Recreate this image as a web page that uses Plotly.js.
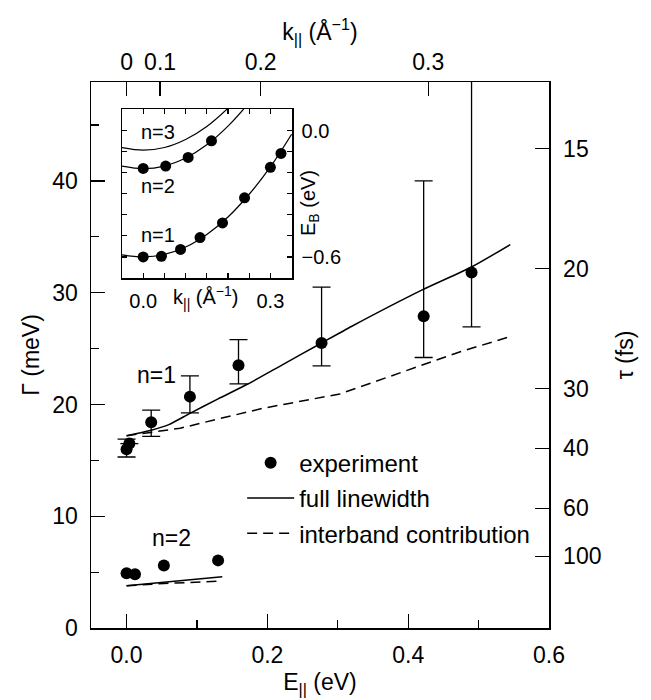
<!DOCTYPE html>
<html>
<head>
<meta charset="utf-8">
<script src="https://cdn.plot.ly/plotly-3.0.1.min.js"></script>
<style>html,body{margin:0;padding:0;background:#fff;}</style>
</head>
<body>
<div id="chart" style="width:651px;height:700px;"></div>
<script>
// ---- main panel: linewidth vs parallel energy ----
const n1E = [0.000, 0.004, 0.035, 0.090, 0.159, 0.277, 0.422, 0.490];
const n1Gamma = [16.0, 16.5, 18.4, 20.7, 23.5, 25.5, 27.9, 31.8];
const n1ErrPlus = [0.9, 0, 1.1, 1.85, 2.3, 5.0, 12.1, 20.0];
const n1ErrMinus = [0.7, 0, 1.25, 1.45, 1.65, 2.05, 3.7, 4.85];

const n2E = [0.000, 0.012, 0.053, 0.130];
const n2Gamma = [4.9, 4.8, 5.6, 6.05];

const n1FullE = [0, 0.035, 0.06, 0.09, 0.13, 0.173, 0.22, 0.277, 0.32, 0.42, 0.49, 0.545];
const n1FullG = [17.2, 17.7, 18.2, 19.2, 20.5, 21.85, 23.5, 25.5, 27.0, 30.25, 32.3, 34.3];
const n1InterE = [0, 0.035, 0.076, 0.13, 0.194, 0.303, 0.36, 0.474, 0.545];
const n1InterG = [17.2, 17.5, 17.87, 18.7, 19.66, 20.94, 22.2, 24.72, 26.07];

const n2FullE = [0, 0.053, 0.136];
const n2FullG = [3.78, 4.09, 4.59];
const n2InterE = [0, 0.053, 0.130];
const n2InterG = [3.78, 3.98, 4.18];

// top axis (k_par) and right axis (tau) tick labels
const kTicks = [0, 0.1, 0.2, 0.3];
const kTickText = ['0', '0.1', '0.2', '0.3'];
const tauTicks = [15, 20, 30, 40, 60, 100];
const tauTickText = ['15', '20', '30', '40', '60', '100'];
const C_DISP = 4.76;   // eV·Å^2, E_par = C k^2
const HBAR = 643;      // meV·fs, Gamma = hbar / tau (as drawn)

// ---- inset: dispersion E_B(k) ----
const in1K = [0.000, 0.043, 0.088, 0.134, 0.187, 0.239, 0.300, 0.325];
const in1E = [-0.600, -0.597, -0.564, -0.508, -0.438, -0.319, -0.174, -0.108];
const in2K = [0.000, 0.053, 0.106, 0.161];
const in2E = [-0.179, -0.168, -0.127, -0.048];
const c1K = [-0.05, 0, 0.05, 0.1, 0.15, 0.2, 0.25, 0.3, 0.35];
const c1E = [-0.59, -0.60, -0.588, -0.553, -0.493, -0.41, -0.302, -0.172, -0.017];
const c2K = [-0.05, 0, 0.05, 0.1, 0.15, 0.2, 0.237];
const c2E = [-0.168, -0.18, -0.168, -0.13, -0.067, 0.022, 0.103];
const c3K = [-0.05, 0, 0.05, 0.1, 0.15, 0.198];
const c3E = [-0.080, -0.092, -0.080, -0.042, 0.020, 0.103];
const inXTicks = [0, 0.05, 0.1, 0.15, 0.2, 0.25, 0.3];
const inXText = ['0.0', '', '', '', '', '', '0.3'];
const inYTicks = [-0.6, -0.5, -0.4, -0.3, -0.2, -0.1, 0.0];
const inYText = ['\u22120.6', '', '', '', '', '', '0.0'];

const FONT = 'Liberation Sans, Arial, Helvetica, sans-serif';
const BLACK = '#000';

const traces = [
  {x: n1E, y: n1Gamma, type: 'scatter', mode: 'markers', name: 'experiment',
   legendgroup: 'a',
   marker: {color: BLACK, size: 12},
   error_y: {type: 'data', symmetric: false, array: n1ErrPlus, arrayminus: n1ErrMinus,
             color: BLACK, thickness: 1.3, width: 9}},
  {x: n2E, y: n2Gamma, type: 'scatter', mode: 'markers', showlegend: false,
   marker: {color: BLACK, size: 12}},
  {x: n1FullE, y: n1FullG, type: 'scatter', mode: 'lines', name: 'full linewidth',
   legendgroup: 'b', line: {color: BLACK, width: 1.5, shape: 'spline', smoothing: 0.6}},
  {x: n1InterE, y: n1InterG, type: 'scatter', mode: 'lines', name: 'interband contribution',
   legendgroup: 'c', line: {color: BLACK, width: 1.5, dash: '10px,6px'}},
  {x: n2FullE, y: n2FullG, type: 'scatter', mode: 'lines', showlegend: false,
   line: {color: BLACK, width: 1.5}},
  {x: n2InterE, y: n2InterG, type: 'scatter', mode: 'lines', showlegend: false,
   line: {color: BLACK, width: 1.5, dash: '10px,6px'}},
  // empty trace so the top and right axes exist
  {x: [], y: [], xaxis: 'x2', yaxis: 'y3', type: 'scatter', mode: 'markers',
   showlegend: false, hoverinfo: 'skip'},
  // inset
  {x: c1K, y: c1E, xaxis: 'x3', yaxis: 'y4', type: 'scatter', mode: 'lines', showlegend: false,
   line: {color: BLACK, width: 1.2, shape: 'spline'}},
  {x: c2K, y: c2E, xaxis: 'x3', yaxis: 'y4', type: 'scatter', mode: 'lines', showlegend: false,
   line: {color: BLACK, width: 1.2, shape: 'spline'}},
  {x: c3K, y: c3E, xaxis: 'x3', yaxis: 'y4', type: 'scatter', mode: 'lines', showlegend: false,
   line: {color: BLACK, width: 1.2, shape: 'spline'}},
  {x: in1K, y: in1E, xaxis: 'x3', yaxis: 'y4', type: 'scatter', mode: 'markers', showlegend: false,
   marker: {color: BLACK, size: 11}},
  {x: in2K, y: in2E, xaxis: 'x3', yaxis: 'y4', type: 'scatter', mode: 'markers', showlegend: false,
   marker: {color: BLACK, size: 11}}
];

const XR = [-0.0505, 0.6];
const YR = [0, 48.85];
const common = {showgrid: false, zeroline: false, showline: true, linecolor: BLACK,
  linewidth: 1.5, ticks: 'inside', tickcolor: BLACK, tickwidth: 1.2,
  tickfont: {family: FONT, size: 23, color: BLACK}};

const layout = {
  width: 651, height: 700, autosize: false,
  margin: {l: 91, r: 102, t: 82, b: 72, pad: 0},
  paper_bgcolor: '#fff', plot_bgcolor: '#fff',
  font: {family: FONT, color: BLACK},
  showlegend: true,
  legend: {x: 0.33, y: 0.343, xanchor: 'left', yanchor: 'top', bgcolor: 'rgba(0,0,0,0)',
           font: {family: FONT, size: 24, color: BLACK}, itemwidth: 47, tracegroupgap: 1},
  xaxis: Object.assign({}, common, {
    range: XR, tickvals: [0, 0.2, 0.4, 0.6], ticktext: ['0.0', '0.2', '0.4', '0.6'],
    ticklen: 14, ticklabelstandoff: 6,
    minor: {tickvals: [0.1, 0.3, 0.5], ticks: 'inside', ticklen: 8, tickcolor: BLACK, tickwidth: 1.2},
    title: {text: 'E<sub>||</sub> (eV)', font: {family: FONT, size: 23, color: BLACK}, standoff: 7}
  }),
  yaxis: Object.assign({}, common, {
    range: YR, tickvals: [0, 10, 20, 30, 40], ticklen: 14, ticklabelstandoff: 7,
    minor: {dtick: 5, ticks: 'inside', ticklen: 8, tickcolor: BLACK, tickwidth: 1.2},
    title: {text: '\u0393 (meV)', font: {family: FONT, size: 23, color: BLACK}, standoff: 6}
  }),
  xaxis2: Object.assign({}, common, {
    overlaying: 'x', side: 'top', anchor: 'y', range: XR,
    tickvals: kTicks.map(k => C_DISP * k * k), ticktext: kTickText, ticklen: 14,
    ticklabelstandoff: 1,
    title: {text: 'k<sub>||</sub> (\u00c5<sup>\u22121</sup>)', font: {family: FONT, size: 23, color: BLACK}, standoff: 2}
  }),
  yaxis3: Object.assign({}, common, {
    overlaying: 'y', side: 'right', anchor: 'x', range: YR,
    tickvals: tauTicks.map(t => HBAR / t), ticktext: tauTickText, ticklen: 14,
    ticklabelstandoff: 8,
    title: {text: '\u03c4 (fs)', font: {family: FONT, size: 23, color: BLACK}, standoff: 16}
  }),
  xaxis3: {
    domain: [0.0677, 0.4389], anchor: 'y4', range: [-0.05, 0.351],
    showgrid: false, zeroline: false, showline: true, linecolor: BLACK, linewidth: 1.5,
    mirror: 'ticks', ticks: 'inside', ticklen: 5, tickwidth: 1.1, tickcolor: BLACK,
    tickvals: inXTicks, ticktext: inXText, ticklabelstandoff: 4,
    tickfont: {family: FONT, size: 20, color: BLACK}
  },
  yaxis4: {
    domain: [0.641, 0.9505], anchor: 'x3', side: 'right', range: [-0.70, 0.103],
    showgrid: false, zeroline: false, showline: true, linecolor: BLACK, linewidth: 1.5,
    mirror: 'ticks', ticks: 'inside', ticklen: 5, tickwidth: 1.1, tickcolor: BLACK,
    tickvals: inYTicks, ticktext: inYText, ticklabelstandoff: 4,
    tickfont: {family: FONT, size: 20, color: BLACK}
  },
  annotations: [
    {x: 0.043, y: 22.64, xref: 'x', yref: 'y', text: 'n=1', showarrow: false,
     font: {family: FONT, size: 23, color: BLACK}},
    {x: 0.064, y: 8.05, xref: 'x', yref: 'y', text: 'n=2', showarrow: false,
     font: {family: FONT, size: 23, color: BLACK}},
    {x: 0.036, y: -0.005, xref: 'x3', yref: 'y4', text: 'n=3', showarrow: false,
     font: {family: FONT, size: 20, color: BLACK}},
    {x: 0.036, y: -0.263, xref: 'x3', yref: 'y4', text: 'n=2', showarrow: false,
     font: {family: FONT, size: 20, color: BLACK}},
    {x: 0.036, y: -0.497, xref: 'x3', yref: 'y4', text: 'n=1', showarrow: false,
     font: {family: FONT, size: 20, color: BLACK}},
    {x: 0.492, y: -0.118, xref: 'x3 domain', yref: 'y4 domain', xanchor: 'center', yanchor: 'middle',
     text: 'k<sub>||</sub> (\u00c5<sup>\u22121</sup>)',
     showarrow: false, font: {family: FONT, size: 20, color: BLACK}},
    {x: 1.106, y: 0.444, xref: 'x3 domain', yref: 'y4 domain', xanchor: 'center', yanchor: 'middle',
     text: 'E<sub>B</sub> (eV)',
     textangle: -90, showarrow: false, font: {family: FONT, size: 20, color: BLACK}}
  ]
};

Plotly.newPlot('chart', traces, layout, {displayModeBar: false, staticPlot: true});
</script>
</body>
</html>
